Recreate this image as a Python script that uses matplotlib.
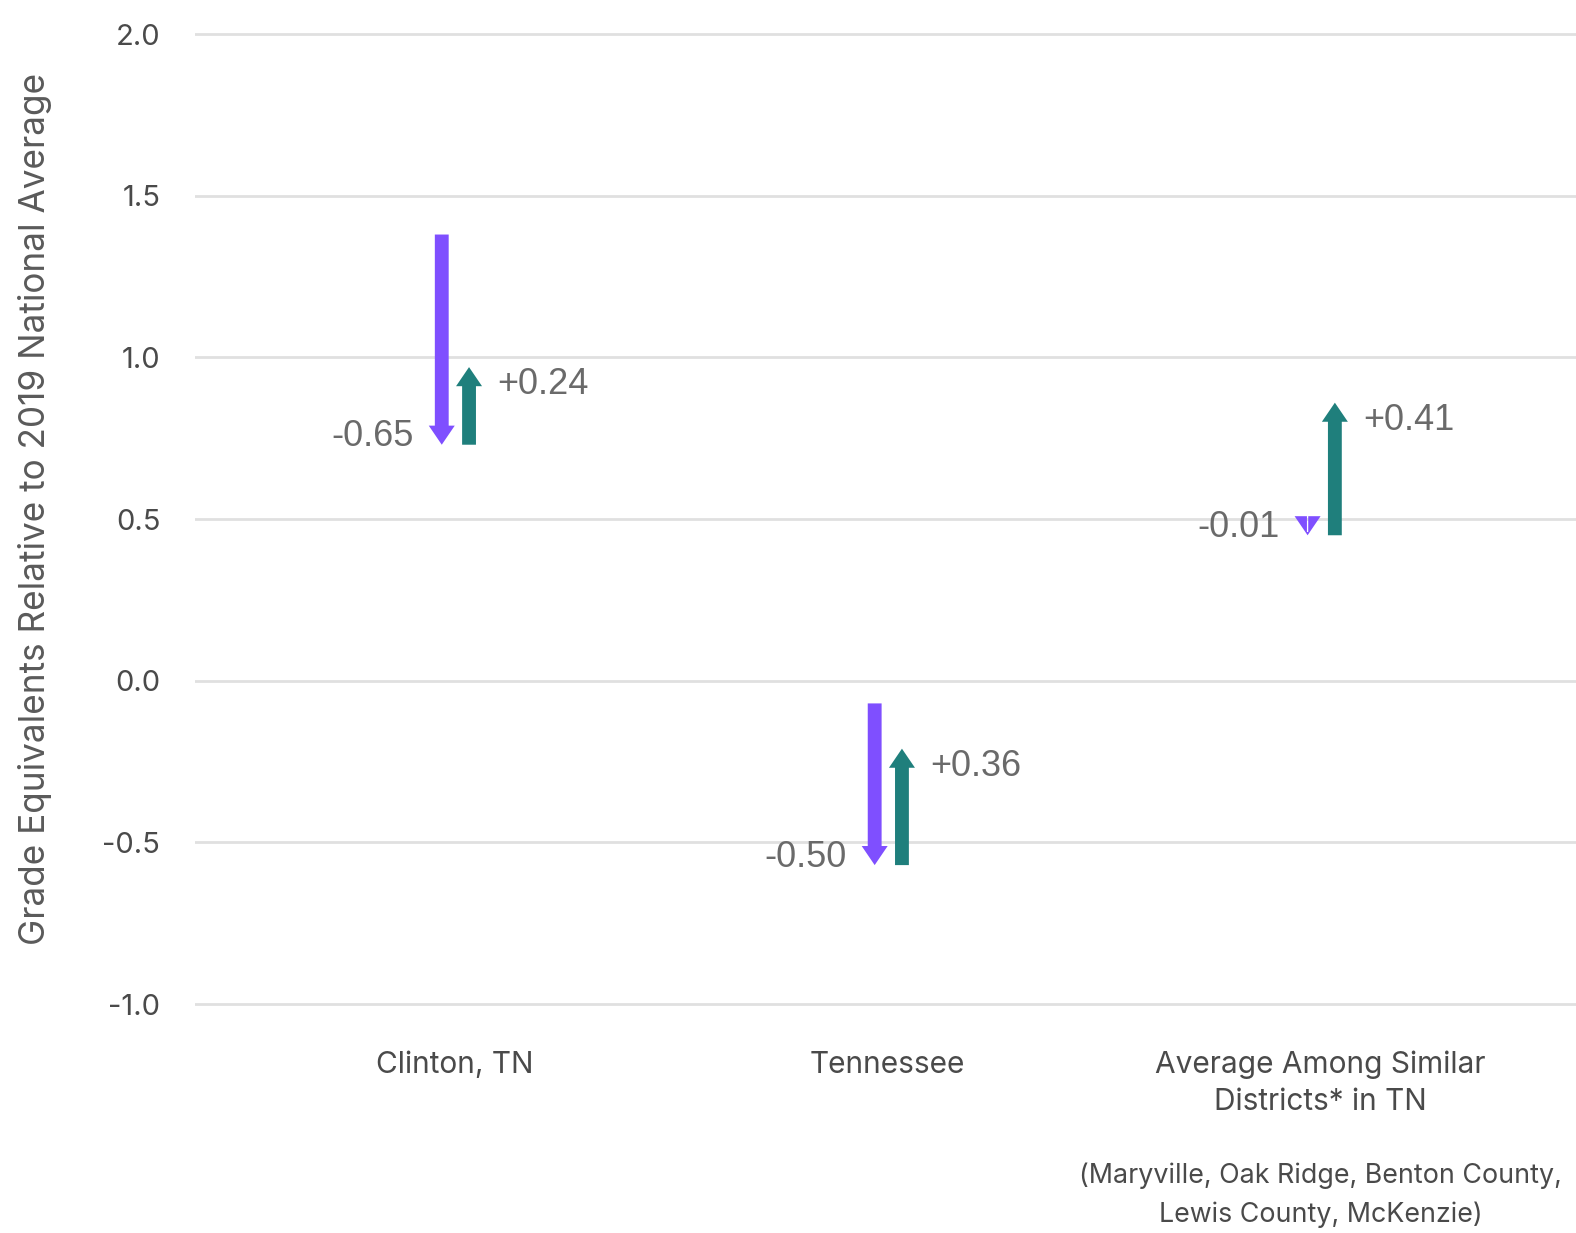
import matplotlib
matplotlib.use("Agg")
import matplotlib.pyplot as plt
from matplotlib.patches import FancyArrow
from matplotlib.transforms import blended_transform_factory

# data
categories = ["Clinton, TN", "Tennessee", "Average Among Similar\nDistricts* in TN"]
start_vals = [1.38, -0.07, 0.46]
drop_vals = [-0.65, -0.50, -0.01]
gain_vals = [0.24, 0.36, 0.41]
yticks = [-1.0, -0.5, 0.0, 0.5, 1.0, 1.5, 2.0]
footnote = "(Maryville, Oak Ridge, Benton County,\nLewis County, McKenzie)"

purple = "#7F4FFF"
teal = "#1F7F7C"
label_gray = "#6a6a6a"
text_gray = "#4a4a4a"

plt.rcParams['font.family'] = ['Inter', 'DejaVu Sans']

fig = plt.figure(figsize=(15.76, 12.33), dpi=100)
ax = fig.add_axes([195 / 1576, 0.1725, 1 - 195 / 1576, 0.813])
ax.set_xlim(-0.600, 2.590)
ax.set_ylim(-1.05, 2.05)

for s in ax.spines.values():
    s.set_visible(False)
ax.set_yticks(yticks)
ax.set_yticklabels([f"{v:.1f}" for v in yticks], fontsize=21, color=text_gray)
ax.tick_params(axis='y', length=0, pad=25)
ax.grid(axis='y', color='#e0e0e0', linewidth=2)
ax.set_axisbelow(True)
ax.set_xticks(range(len(categories)))
ax.set_xticklabels(categories, fontsize=21.5, color=text_gray, linespacing=1.4)
ax.tick_params(axis='x', length=0, pad=22)

ax.set_ylabel("Grade Equivalents Relative to 2019 National Average",
              fontsize=25.3, color="#5a5a5a")
ax.yaxis.set_label_coords(-0.1035, 0.51)

shaft = 0.032
head_w = 0.06
head_l = 0.059
off_p = -0.03
off_g = 0.033


def draw_arrow(x, y0, y1, color):
    dy = y1 - y0
    w = shaft if abs(dy) > head_l else 0.003
    ax.add_patch(FancyArrow(x, y0, 0, dy, width=w,
                            head_width=head_w, head_length=head_l,
                            length_includes_head=True, color=color, lw=0))


for i in range(len(categories)):
    y0 = start_vals[i]
    y1 = y0 + drop_vals[i]
    y2 = y1 + gain_vals[i]
    draw_arrow(i + off_p, y0, y1, purple)
    draw_arrow(i + off_g, y1, y2, teal)
    ax.text(i + off_p - 0.065, y1 + 0.025, f"{drop_vals[i]:.2f}",
            ha='right', va='center', fontsize=26, color=label_gray,
            family='Liberation Sans')
    ax.text(i + off_g + 0.065, y2 - 0.055, f"+{gain_vals[i]:.2f}",
            ha='left', va='center', fontsize=26, color=label_gray,
            family='Liberation Sans')

trans = blended_transform_factory(ax.transData, fig.transFigure)
ax.text(2.0, 1 - 1195 / 1233, footnote, transform=trans, ha='center', va='center',
        fontsize=19.3, color=text_gray, linespacing=1.6)

fig.savefig("out.png", dpi=100)
